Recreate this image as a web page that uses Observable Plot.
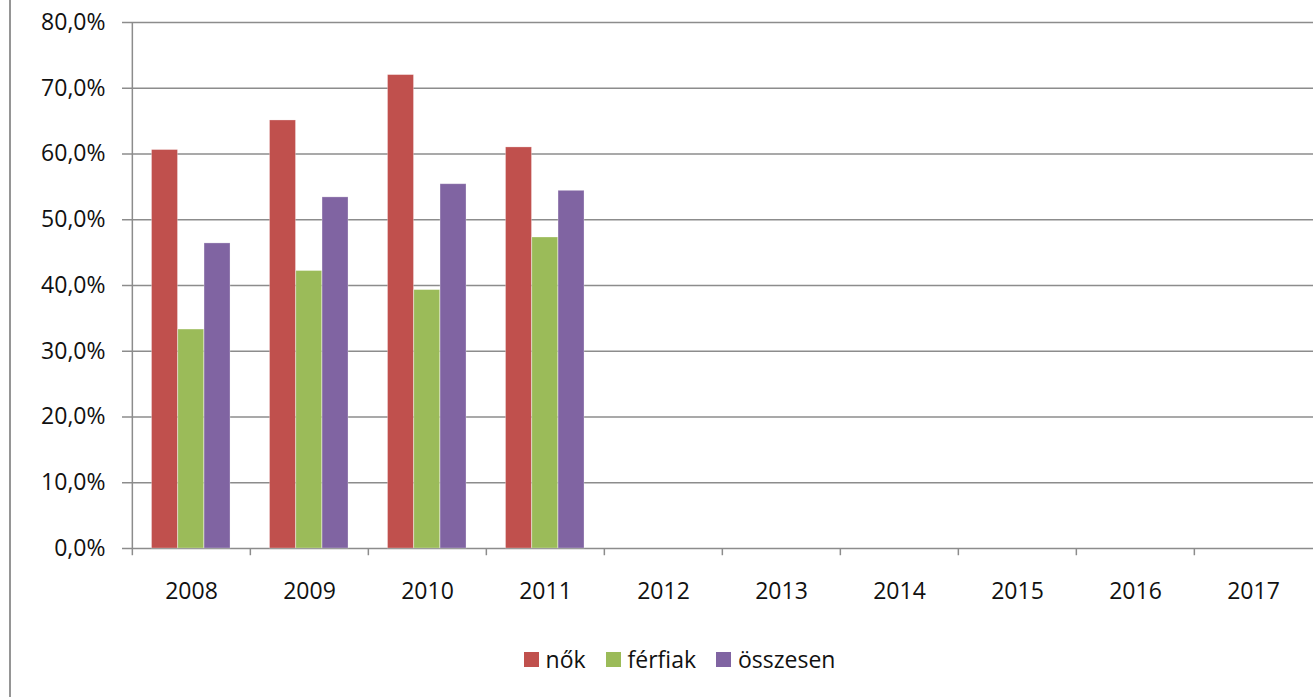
<!DOCTYPE html>
<html>
<head>
<meta charset="utf-8">
<script src="https://cdn.jsdelivr.net/npm/d3@7"></script>
<script src="https://cdn.jsdelivr.net/npm/@observablehq/plot@0.6"></script>
<style>
  html, body { margin: 0; padding: 0; background: #fff; overflow: hidden; }
  body { width: 1313px; height: 697px; position: relative; font-family: "Open Sans", sans-serif; }
  #frame { position: absolute; left: 9px; top: 0; width: 1.5px; height: 697px; background: #959595; }
  #chart { position: absolute; left: 0; top: 0; }
  #legend { position: absolute; left: 0; top: 643px; width: 1313px; display: flex; justify-content: center;
            padding-left: 46px; box-sizing: border-box; font-size: 23px; color: #111; }
  .item { display: flex; align-items: center; margin: 0 10px; }
  .sw { width: 15px; height: 15px; margin-right: 7px; }
</style>
</head>
<body>
<div id="frame"></div>
<div id="chart"></div>
<div id="legend"></div>
<script>
const years = ["2008","2009","2010","2011","2012","2013","2014","2015","2016","2017"];
const series = ["nők", "férfiak", "összesen"];
const nok = [60.6, 65.1, 72.0, 61.0];
const ferfiak = [33.3, 42.2, 39.3, 47.3];
const osszesen = [46.4, 53.4, 55.4, 54.4];
const colors = ["#C0504D", "#9BBB59", "#8064A2"];
const yTicks = [0, 10, 20, 30, 40, 50, 60, 70, 80];

const W = 1313, H = 620, mL = 130, mR = 0, mT = 22, mB = 72;
const bw = (W - mL - mR) / years.length;
const barW = bw * 0.222, lead = bw * 0.165;
const grid = "#8c8c8c";

const valuesBySeries = [nok, ferfiak, osszesen];
const barMarks = series.map((s, i) => {
  const data = valuesBySeries[i].map((v, j) => ({year: years[j], value: v, series: s}));
  return Plot.barY(data, {
    x: "year", y: "value", fill: colors[i],
    insetLeft: lead + i * barW,
    insetRight: bw - lead - (i + 1) * barW,
    stroke: "#fff", strokeOpacity: 0.35, strokeWidth: 0.8
  });
});

const fmt = d => d.toFixed(1).replace(".", ",") + "%";

const chart = Plot.plot({
  width: W, height: H,
  marginLeft: mL, marginRight: mR, marginTop: mT, marginBottom: mB,
  style: {fontFamily: "'Open Sans', sans-serif", fontSize: "23px", color: "#111", background: "transparent"},
  x: {type: "band", domain: years, padding: 0, axis: null, label: null},
  y: {domain: [0, 80], axis: null, label: null},
  marks: [
    Plot.ruleY(yTicks, {stroke: grid, strokeWidth: 1.5}),
    Plot.axisY({ticks: yTicks, tickSize: 8, tickPadding: 17, tickFormat: fmt, stroke: grid, strokeWidth: 1.5, fill: "#111", label: null}),
    Plot.axisX({tickSize: 0, tickPadding: 34, fill: "#111", label: null}),
    Plot.ruleX(years, {x: d => d, y1: 0, y2: -1.1, dx: -bw / 2, stroke: grid, strokeWidth: 1.5}),
    Plot.ruleX([years[0]], {x: d => d, y1: 0, y2: 80, dx: -bw / 2, stroke: grid, strokeWidth: 1.5}),
    ...barMarks
  ]
});
document.getElementById("chart").appendChild(chart);

const legend = document.getElementById("legend");
series.forEach((s, i) => {
  const item = document.createElement("div");
  item.className = "item";
  const sw = document.createElement("span");
  sw.className = "sw";
  sw.style.background = colors[i];
  const t = document.createElement("span");
  t.textContent = s;
  item.appendChild(sw);
  item.appendChild(t);
  legend.appendChild(item);
});
</script>
</body>
</html>
